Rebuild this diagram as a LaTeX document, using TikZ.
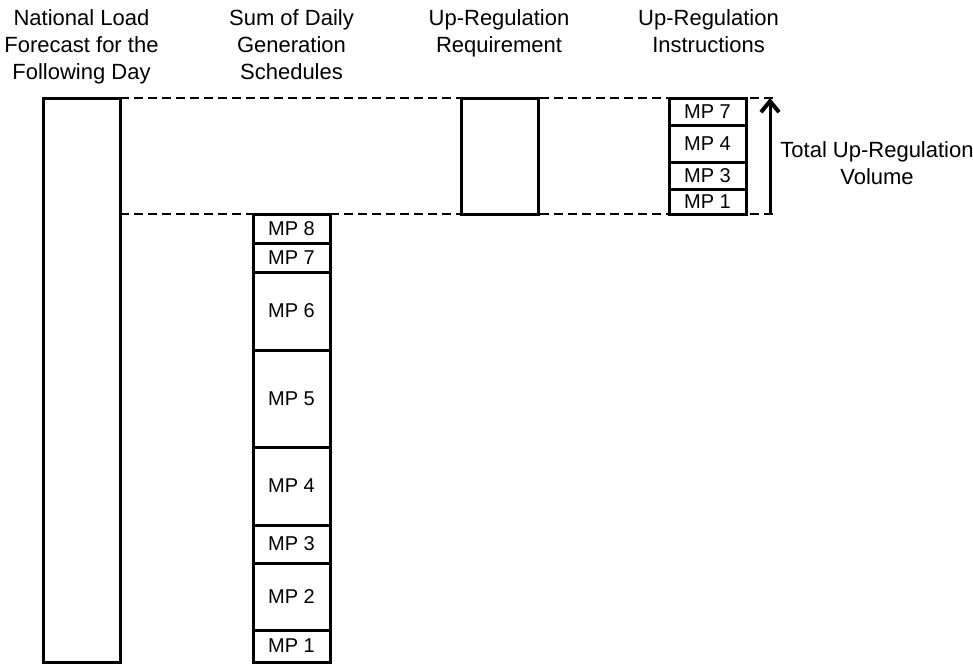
\documentclass[tikz,border=0pt]{standalone}
\usepackage{fontspec}
\setmainfont{Liberation Sans}
\usetikzlibrary{arrows.meta,positioning}

\begin{document}
\begin{tikzpicture}[x=0.5pt,y=-0.5pt,>={Straight Barb[length=5.5pt,width=9pt,line width=0.5pt 1 0]},box/.style={draw,line width=1.5pt,outer sep=0pt,inner sep=0pt,minimum width=38.5pt},mp/.style={box,font=\fontsize{10}{12}\selectfont},head/.style={align=center,inner sep=0pt,anchor=north,font=\fontsize{11}{13.6}\selectfont},guide/.style={line width=1pt,dash pattern=on 4.5pt off 2.5pt}]
\useasboundingbox (0,0) rectangle (973,665);
\node[head] (loadhead) at (81.5,9) {National Load\\Forecast for the\\Following Day};
\node[head] (schedhead) at (291.5,9) {Sum of Daily\\Generation\\Schedules};
\node[head] (reqhead) at (499,9) {Up-Regulation\\Requirement};
\node[head] (inshead) at (708.5,9) {Up-Regulation\\Instructions};
\node[box,anchor=north west,minimum height=282pt] (load) at (43,98) {};
\node[box,anchor=north west,minimum height=58pt] (req) at (461,98) {};
\node[mp,anchor=north west,minimum height=14.5pt] (mp8) at (253,214) {MP 8};
\node[mp,below=0pt of mp8,minimum height=14.5pt] (mp7) {MP 7};
\node[mp,below=0pt of mp7,minimum height=39pt] (mp6) {MP 6};
\node[mp,below=0pt of mp6,minimum height=48.5pt] (mp5) {MP 5};
\node[mp,below=0pt of mp5,minimum height=39pt] (mp4) {MP 4};
\node[mp,below=0pt of mp4,minimum height=19pt] (mp3) {MP 3};
\node[mp,below=0pt of mp3,minimum height=33.5pt] (mp2) {MP 2};
\node[mp,below=0pt of mp2,minimum height=16pt] (mp1) {MP 1};
\node[mp,anchor=north west,minimum height=13.5pt] (ins7) at (669,98) {MP 7};
\node[mp,below=0pt of ins7,minimum height=18.5pt] (ins4) {MP 4};
\node[mp,below=0pt of ins4,minimum height=13.5pt] (ins3) {MP 3};
\node[mp,below=0pt of ins3,minimum height=12.5pt] (ins1) {MP 1};
\coordinate (guidetop) at (777,98);
\coordinate (guidebot) at (777,214);
\coordinate (voltop) at (770,98);
\coordinate (volbot) at (770,214);
\draw[guide] (load.north east)--(guidetop);
\draw[guide] (load.north east|-mp8.north)--(guidebot);
\draw[->,line width=1.5pt] (volbot)--(voltop);
\node[head,anchor=west] (vol) at (780,163) {Total Up-Regulation\\Volume};
\end{tikzpicture}
\end{document}
